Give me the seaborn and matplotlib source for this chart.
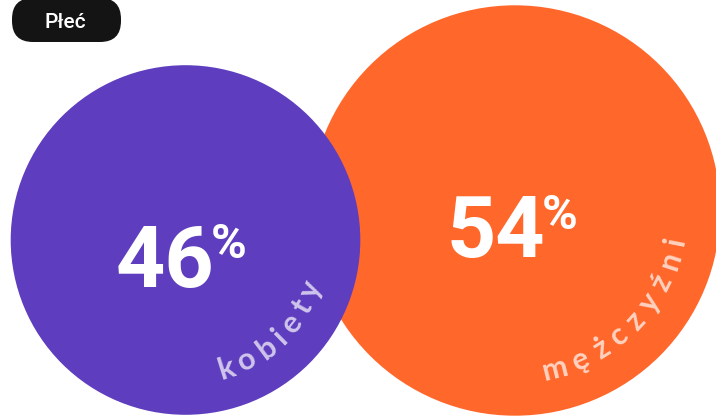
import numpy as np
import matplotlib
matplotlib.use("Agg")
import matplotlib.pyplot as plt
from matplotlib.patches import Circle, FancyBboxPatch
from matplotlib.font_manager import FontProperties
from matplotlib.textpath import text_to_path
import seaborn as sns

# Gender split of respondents
title = "Płeć"
categories = ["kobiety", "mężczyźni"]
shares = [46, 54]
colors = ["#5E3DBE", "#FF672B"]

sns.set_theme(style="white")
plt.rcParams["font.family"] = ["Roboto", "DejaVu Sans"]

W, H, DPI = 716, 417, 100
fig = plt.figure(figsize=(W / DPI, H / DPI), dpi=DPI)
ax = fig.add_axes([0, 0, 1, 1])
ax.set_xlim(0, W)
ax.set_ylim(H, 0)
ax.set_aspect("equal")
ax.axis("off")

# pixel radius per percentage point
SCALE = 3.8
centers = {"kobiety": (185.5, 240.0), "mężczyźni": (515.0, 210.5)}
# draw the larger circle first so the smaller one sits on top
order = [1, 0]
for i in order:
    cx, cy = centers[categories[i]]
    ax.add_patch(Circle((cx, cy), shares[i] * SCALE, facecolor=colors[i],
                        edgecolor="none", zorder=1 + order.index(i)))

# big percentages
num_layout = {
    "kobiety": dict(split=214, base=287, top=222),
    "mężczyźni": dict(split=545, base=257, top=193),
}
for i, cat in enumerate(categories):
    lay = num_layout[cat]
    z = 5 + order.index(i)
    ax.text(lay["split"], lay["base"], f"{shares[i]}", ha="right", va="baseline",
            fontsize=62, fontweight=600, color="white", zorder=z)
    ax.text(lay["split"] - 3, lay["top"], "%", ha="left", va="top",
            fontsize=35, fontweight=600, color="white", zorder=z)

# curved category labels, letters facing the circle centre
label_font = FontProperties(family=["Lato", "DejaVu Sans"], weight="bold", size=22)


def arc_text(txt, cx, cy, radius, mid_deg, tracking, zorder):
    px = DPI / 72.0
    widths = [text_to_path.get_text_width_height_descent(c, label_font, ismath=False)[0] * px
              for c in txt]
    pos = []
    s = 0.0
    for k, w in enumerate(widths):
        pos.append(s + w / 2)
        s += w + (tracking if k < len(widths) - 1 else 0)
    total = s
    for c, p in zip(txt, pos):
        th = np.radians(mid_deg) + (total / 2 - p) / radius
        x = cx + radius * np.cos(th)
        y = cy + radius * np.sin(th)
        ax.text(x, y, c, fontproperties=label_font, color="white", alpha=0.7,
                ha="center", va="baseline", rotation=90 - np.degrees(th),
                rotation_mode="anchor", zorder=zorder)


arc_text("kobiety", *centers["kobiety"], radius=144, mid_deg=47, tracking=7, zorder=7)
arc_text("mężczyźni", *centers["mężczyźni"], radius=172, mid_deg=45, tracking=9, zorder=7)

# title pill
ax.add_patch(FancyBboxPatch((12, -2), 109, 44,
                            boxstyle="round,pad=0,rounding_size=21",
                            facecolor="#141414", edgecolor="none", zorder=10))
ax.text(65, 22, title, ha="center", va="center", fontsize=15,
        fontweight=500, color="white", zorder=11)

fig.savefig("out.png", dpi=DPI)
